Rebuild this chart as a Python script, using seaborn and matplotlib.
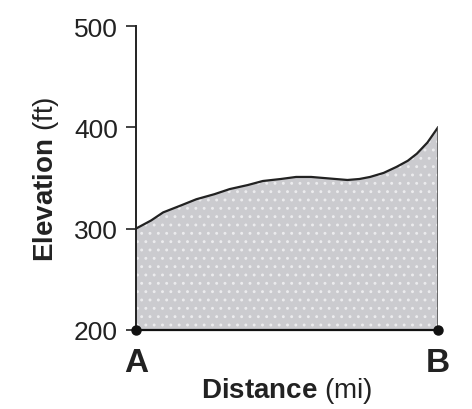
import matplotlib
matplotlib.use("Agg")
import matplotlib.pyplot as plt
import seaborn as sns
import numpy as np
import pandas as pd

# elevation profile (distance as a fraction of A->B)
distance = [0.0, 0.05, 0.09, 0.15, 0.20, 0.26, 0.31, 0.37, 0.42, 0.48, 0.53, 0.58,
            0.62, 0.66, 0.70, 0.74, 0.775, 0.82, 0.863, 0.90, 0.93, 0.965, 1.0]
elevation = [300, 308, 316, 323, 329, 334, 339, 343, 347, 349, 351, 351,
             350, 349, 348, 349, 351, 355, 361, 367, 374, 385, 400]
y_ticks = [200, 300, 400, 500]
end_labels = ["A", "B"]

sns.set_theme(style="white")
plt.rcParams['font.family'] = ['Liberation Sans', 'DejaVu Sans']
plt.rcParams['mathtext.fontset'] = 'custom'
plt.rcParams['mathtext.rm'] = 'Liberation Sans'
plt.rcParams['mathtext.bf'] = 'Liberation Sans:bold'
plt.rcParams['hatch.linewidth'] = 0.9

df = pd.DataFrame({"distance": distance, "elevation": elevation})

fig = plt.figure(figsize=(4.72, 4.10), dpi=100)
ax = fig.add_axes([0.288, 0.193, 0.64, 0.741])

ax.fill_between(df["distance"], 200, df["elevation"], facecolor="#cbcbcf",
                hatch="..", edgecolor="#ececee", linewidth=0)
sns.lineplot(data=df, x="distance", y="elevation", color="#222222", lw=1.6, ax=ax)
# right edge of the shaded area
ax.plot([1, 1], [200, elevation[-1]], color="#555555", lw=1.2)
# base line A -> B with end dots
ax.plot([0, 1], [200, 200], color="#111111", lw=1.6, marker="o", ms=6.5, clip_on=False, zorder=5)

ax.set_xlim(0, 1)
ax.set_ylim(200, 500)
ax.set_yticks(y_ticks)
ax.set_xticks([0, 1])
ax.set_xticklabels(end_labels, fontsize=24, fontweight="bold", color="#222222")
ax.tick_params(axis="x", length=0, pad=12)
ax.tick_params(axis="y", left=True, length=7, width=1.2, color="#222222",
               labelsize=19, pad=6, labelcolor="#222222")

for s in ["top", "right", "bottom"]:
    ax.spines[s].set_visible(False)
ax.spines["left"].set_color("#222222")
ax.spines["left"].set_linewidth(1.4)

ax.set_xlabel(r"$\bf{Distance}$ (mi)", fontsize=20, color="#222222", labelpad=-2)
ax.set_ylabel(r"$\bf{Elevation}$ (ft)", fontsize=20, color="#222222", labelpad=9)

fig.savefig("out.png", dpi=100)
